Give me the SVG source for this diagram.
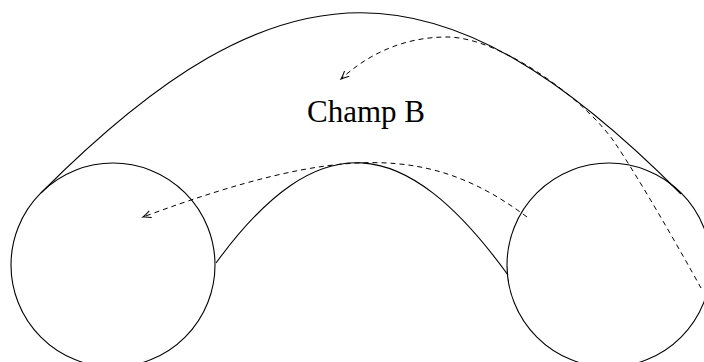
<svg xmlns="http://www.w3.org/2000/svg" width="704" height="362" viewBox="0 0 704 362">
<style>
.solid{fill:none;stroke:#000;stroke-width:1.1}
.dash{fill:none;stroke:#000;stroke-width:1;stroke-dasharray:5 4}
.lbl{font-family:"Liberation Serif","DejaVu Serif",serif;font-size:31px;fill:#000}
</style>
<defs>
<marker id="ah" viewBox="-10 -5 12 10" markerWidth="12" markerHeight="10" refX="0" refY="0" orient="auto" markerUnits="userSpaceOnUse">
<path d="M-8,-3.5 Q-3,-0.8 0,0 Q-3,0.8 -8,3.5" fill="none" stroke="#000" stroke-width="1"/>
</marker>
</defs>
<rect width="704" height="362" fill="#fff"/>
<g id="left-circle"><circle cx="113" cy="265" r="102" class="solid" stroke-width="1.4"/></g>
<g id="right-circle"><circle cx="609" cy="265" r="102" class="solid"/></g>
<g id="champ-b"><text x="366" y="122" text-anchor="middle" class="lbl">Champ B</text></g>
<g id="connectors">
<path class="solid" d="M41,193 C281,-48 441,-47 681,194"/>
<path class="solid" d="M216,263 C319,122 405,133 508,275"/>
<path class="dash" d="M527,217 C432,146 343,143 143,217" marker-end="url(#ah)"/>
<path class="dash" d="M701,288 C680,250 640,180 615,143 C585,99 500,37 447,37 C400,37 365,57 341,79" marker-end="url(#ah)"/>
</g>
</svg>
